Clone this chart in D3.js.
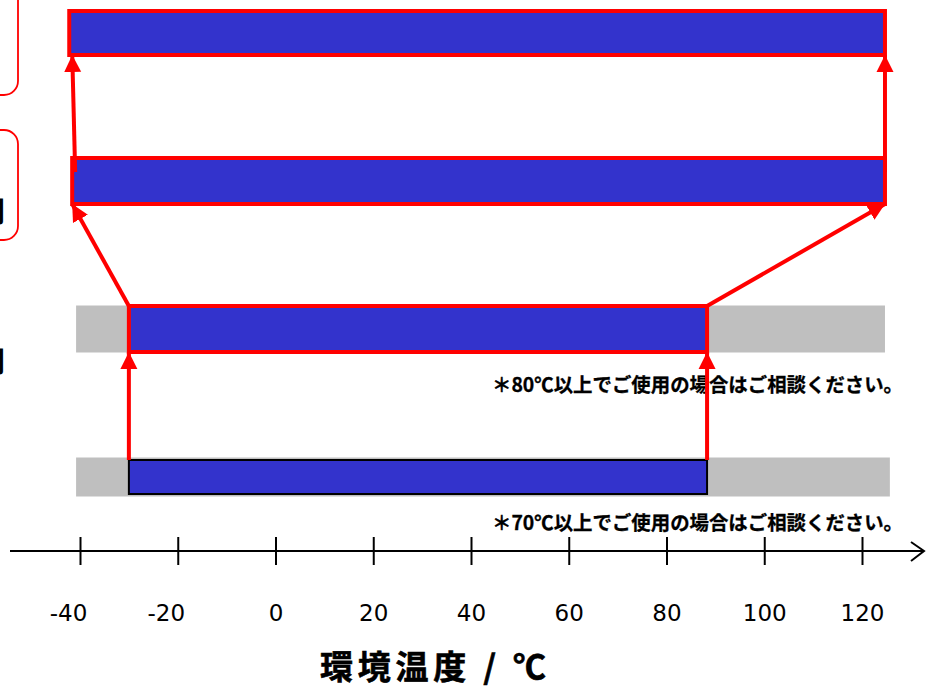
<!DOCTYPE html>
<html>
<head>
<meta charset="utf-8">
<script src="https://cdn.jsdelivr.net/npm/d3@7"></script>
<style>
  html, body { margin: 0; padding: 0; background: #fff; }
  svg { display: block; }
</style>
</head>
<body>
<div id="chart"></div>
<script>
// DATA (°C)
const rows = [0, 1, 2, 3];                       // top to bottom
const rangeLow = [-42.2, -41.6, -30, -30];
const rangeHigh = [124.7, 124.7, 88.3, 88.3];
const bandLow = [null, null, -40.8, -40.8];      // grey background bands
const bandHigh = [null, null, 124.7, 125.7];
const notes = ["", "", "＊80℃以上でご使用の場合はご相談ください。", "＊70℃以上でご使用の場合はご相談ください。"];
const tickValues = [-40, -20, 0, 20, 40, 60, 80, 100, 120];
const axisTitle = "環境温度 / ℃";

const width = 926, height = 688;
const red = "#FF0000", blue = "#3333CC", grey = "#BFBFBF";

// per-row drawing sizes
const barH = [44, 46, 46, 34];
const bandH = [0, 0, 47, 39];

const svg = d3.select("#chart").append("svg")
  .attr("width", width)
  .attr("height", height);

const x = d3.scaleLinear().domain([-40, 120]).range([80, 862]);
const y = d3.scalePoint().domain(rows).range([33, 477]);

// arrow heads
const defs = svg.append("defs");
defs.append("marker")
  .attr("id", "head")
  .attr("markerUnits", "userSpaceOnUse")
  .attr("viewBox", "0 -9 17 18")
  .attr("refX", 17)
  .attr("refY", 0)
  .attr("markerWidth", 17)
  .attr("markerHeight", 18)
  .attr("orient", "auto")
  .append("path")
  .attr("d", "M0,-8.5L17,0L0,8.5Z")
  .attr("fill", red);

// cut-off label boxes on the left edge
svg.append("rect")
  .attr("x", -40).attr("y", -30)
  .attr("width", 58).attr("height", 125)
  .attr("rx", 14).attr("ry", 14)
  .attr("fill", "none").attr("stroke", red).attr("stroke-width", 1.8);
svg.append("rect")
  .attr("x", -40).attr("y", 130)
  .attr("width", 58).attr("height", 110)
  .attr("rx", 14).attr("ry", 14)
  .attr("fill", "none").attr("stroke", red).attr("stroke-width", 1.8);
[222, 372].forEach(by => {
  svg.append("text")
    .attr("x", 5).attr("y", by)
    .attr("text-anchor", "end")
    .attr("font-family", "Noto Sans CJK JP")
    .attr("font-weight", "bold")
    .attr("font-size", 28)
    .attr("fill", "#000")
    .text("間");
});

// grey bands
rows.forEach(i => {
  if (bandLow[i] == null) return;
  svg.append("rect")
    .attr("x", x(bandLow[i]))
    .attr("y", y(i) - bandH[i] / 2)
    .attr("width", x(bandHigh[i]) - x(bandLow[i]))
    .attr("height", bandH[i])
    .attr("fill", grey);
});

// range bars
rows.forEach(i => {
  const last = i === rows.length - 1;
  svg.append("rect")
    .attr("x", x(rangeLow[i]))
    .attr("y", y(i) - barH[i] / 2)
    .attr("width", x(rangeHigh[i]) - x(rangeLow[i]))
    .attr("height", barH[i])
    .attr("fill", blue)
    .attr("stroke", last ? "#000" : red)
    .attr("stroke-width", last ? 2 : 4);
});

// notes
rows.forEach(i => {
  if (!notes[i]) return;
  svg.append("text")
    .attr("x", 903)
    .attr("y", y(i) + bandH[i] / 2 + (i === 2 ? 39 : 33))
    .attr("text-anchor", "end")
    .attr("font-family", "Noto Sans CJK JP")
    .attr("font-weight", "bold")
    .attr("font-size", 19.5)
    .attr("textLength", 411)
    .attr("lengthAdjust", "spacingAndGlyphs")
    .attr("fill", "#000")
    .attr("stroke", "#000")
    .attr("stroke-width", 0.3)
    .text(notes[i]);
});

// arrows: each bar's ends point up to the bar above
function arrow(x1, y1, x2, y2) {
  svg.append("line")
    .attr("x1", x1).attr("y1", y1)
    .attr("x2", x2).attr("y2", y2)
    .attr("stroke", red)
    .attr("stroke-width", 4)
    .attr("marker-end", "url(#head)");
}
rows.slice(1).forEach(i => {
  const from = y(i) - barH[i] / 2 + (i === 1 ? 14 : 0);
  const to = y(i - 1) + barH[i - 1] / 2;
  arrow(x(rangeLow[i]) + (i === 1 ? 3 : 0), from, x(rangeLow[i - 1]) + (i === 1 ? 3 : 0), to);
  arrow(x(rangeHigh[i]), from, x(rangeHigh[i - 1]), to);
});

// temperature axis
const axisY = 551;
const axis = svg.append("g")
  .attr("transform", `translate(0,${axisY})`)
  .call(d3.axisBottom(x).tickValues(tickValues).tickSize(14).tickSizeOuter(0).tickFormat(d => String(d)));
axis.select(".domain").remove();
axis.selectAll(".tick line")
  .attr("y1", -14).attr("y2", 14)
  .attr("stroke", "#000").attr("stroke-width", 2);
axis.selectAll(".tick text")
  .attr("y", 70)
  .attr("dy", 0)
  .attr("dx", d => d < 0 ? -12 : 0)
  .attr("font-family", "DejaVu Sans")
  .attr("font-size", 23)
  .attr("fill", "#000");

svg.append("line")
  .attr("x1", 10).attr("y1", axisY)
  .attr("x2", 923).attr("y2", axisY)
  .attr("stroke", "#000").attr("stroke-width", 2);
svg.append("path")
  .attr("d", `M911,${axisY - 9}L924,${axisY}L911,${axisY + 10}`)
  .attr("fill", "none").attr("stroke", "#000").attr("stroke-width", 2);

svg.append("text")
  .attr("x", 320)
  .attr("y", 679)
  .attr("font-family", "Noto Sans CJK JP")
  .attr("font-weight", "bold")
  .attr("font-size", 33)
  .attr("textLength", 226)
  .attr("lengthAdjust", "spacing")
  .attr("fill", "#000")
  .attr("stroke", "#000")
  .attr("stroke-width", 0.6)
  .text(axisTitle);
</script>
</body>
</html>
